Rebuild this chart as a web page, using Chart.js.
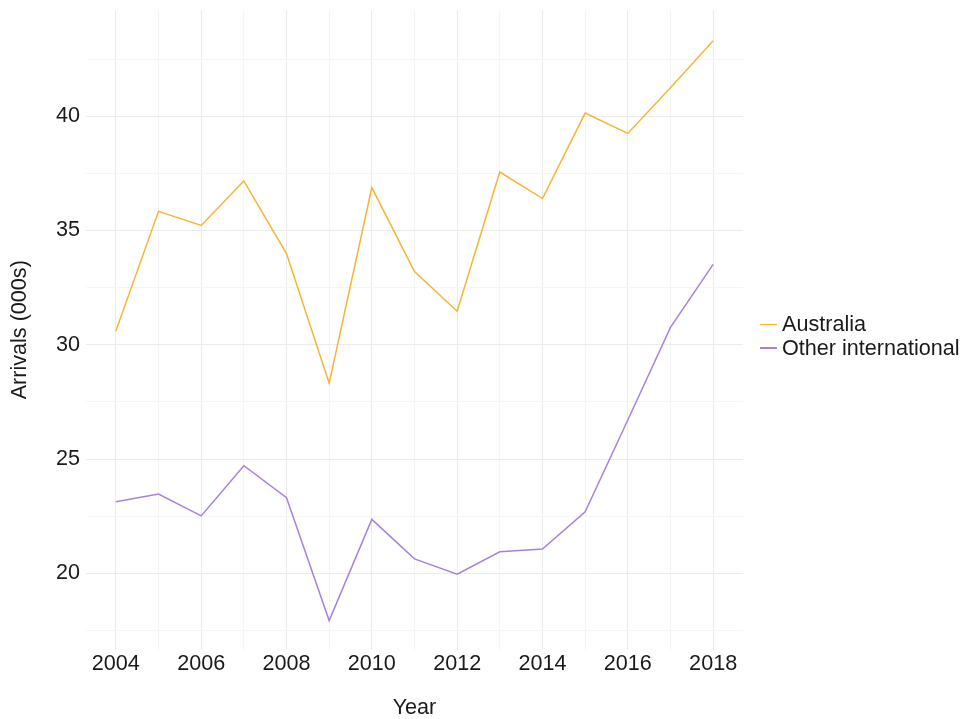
<!DOCTYPE html>
<html>
<head>
<meta charset="utf-8">
<script src="https://cdn.jsdelivr.net/npm/chart.js@4"></script>
<style>
  html, body { margin: 0; padding: 0; background: #ffffff; }
  #wrap { position: relative; width: 969px; height: 719px; }
  canvas { display: block; }
  .lg { position: absolute; left: 760px; height: 22px; line-height: 22px; font-family: "Liberation Sans", Arial, sans-serif; font-size: 21.6px; color: #1a1a1a; white-space: nowrap; }
  .lg .key { display: inline-block; width: 17px; height: 1.6px; vertical-align: middle; margin-right: 5px; position: relative; top: -1px; }
</style>
</head>
<body>
<div id="wrap">
  <canvas id="c" width="969" height="719"></canvas>
  <div class="lg" id="lg0" style="top:313px;"><span class="key"></span><span class="txt"></span></div>
  <div class="lg" id="lg1" style="top:336.5px;"><span class="key"></span><span class="txt"></span></div>
</div>
<script>
const years = [2004, 2005, 2006, 2007, 2008, 2009, 2010, 2011, 2012, 2013, 2014, 2015, 2016, 2017, 2018];
const australia = [30.6, 35.84, 35.22, 37.17, 33.99, 28.32, 36.88, 33.2, 31.47, 37.56, 36.4, 40.14, 39.25, 41.25, 43.3];
const otherInternational = [23.13, 23.47, 22.51, 24.71, 23.31, 17.93, 22.36, 20.63, 19.96, 20.94, 21.06, 22.69, 26.71, 30.76, 33.52];
const seriesNames = ["Australia", "Other international"];
const seriesColors = ["#F4B533", "#A782DB"];
const yGridValues = [17.5, 20, 22.5, 25, 27.5, 30, 32.5, 35, 37.5, 40, 42.5];
const xTitle = "Year";
const yTitle = "Arrivals (000s)";

const FONT = '"Liberation Sans", Arial, sans-serif';
const TEXT = '#1a1a1a';
const MAJOR = '#ebebeb';
const MINOR = '#f5f5f5';

function toPoints(vals) { return years.map((y, i) => ({ x: y, y: vals[i] })); }

const datasets = [australia, otherInternational].map((vals, i) => ({
  label: seriesNames[i],
  data: toPoints(vals),
  borderColor: seriesColors[i],
  backgroundColor: seriesColors[i],
  borderWidth: 1.5,
  pointRadius: 0,
  pointHoverRadius: 0,
  tension: 0,
  fill: false
}));

seriesNames.forEach((n, i) => {
  const el = document.getElementById('lg' + i);
  el.querySelector('.key').style.background = seriesColors[i];
  el.querySelector('.txt').textContent = n;
});

new Chart(document.getElementById('c'), {
  type: 'line',
  data: { datasets },
  options: {
    responsive: false,
    animation: false,
    layout: { padding: { top: 10, right: 226, bottom: 0, left: 0 } },
    plugins: { legend: { display: false }, tooltip: { enabled: false } },
    scales: {
      x: {
        type: 'linear',
        min: 2003.3,
        max: 2018.7,
        afterBuildTicks: s => { s.ticks = years.map(v => ({ value: v })); },
        afterFit: s => { s.height = 69.5; },
        border: { display: false },
        grid: {
          drawTicks: false,
          lineWidth: 1,
          color: ctx => (ctx.tick && ctx.tick.value % 2 === 0) ? MAJOR : MINOR
        },
        ticks: {
          padding: 2,
          autoSkip: false,
          maxRotation: 0,
          color: TEXT,
          font: { family: FONT, size: 21.6, lineHeight: 1.2 },
          callback: v => (v % 2 === 0 ? String(v) : '')
        },
        title: {
          display: true,
          text: xTitle,
          color: TEXT,
          font: { family: FONT, size: 21.6, lineHeight: 1 },
          padding: { top: 0, bottom: 0 }
        }
      },
      y: {
        type: 'linear',
        min: 16.665,
        max: 44.65,
        afterBuildTicks: s => { s.ticks = yGridValues.map(v => ({ value: v })); },
        afterFit: s => { s.width = 86; },
        border: { display: false },
        grid: {
          drawTicks: false,
          lineWidth: 1,
          color: ctx => (ctx.tick && ctx.tick.value % 5 === 0) ? MAJOR : MINOR
        },
        ticks: {
          padding: 6,
          color: TEXT,
          font: { family: FONT, size: 21.6, lineHeight: 0.3 },
          callback: v => (v % 5 === 0 ? String(v) : '')
        },
        title: {
          display: true,
          text: yTitle,
          color: TEXT,
          font: { family: FONT, size: 21.6, lineHeight: 1.2 },
          padding: { top: 7, bottom: 0 }
        }
      }
    }
  }
});
</script>
</body>
</html>
